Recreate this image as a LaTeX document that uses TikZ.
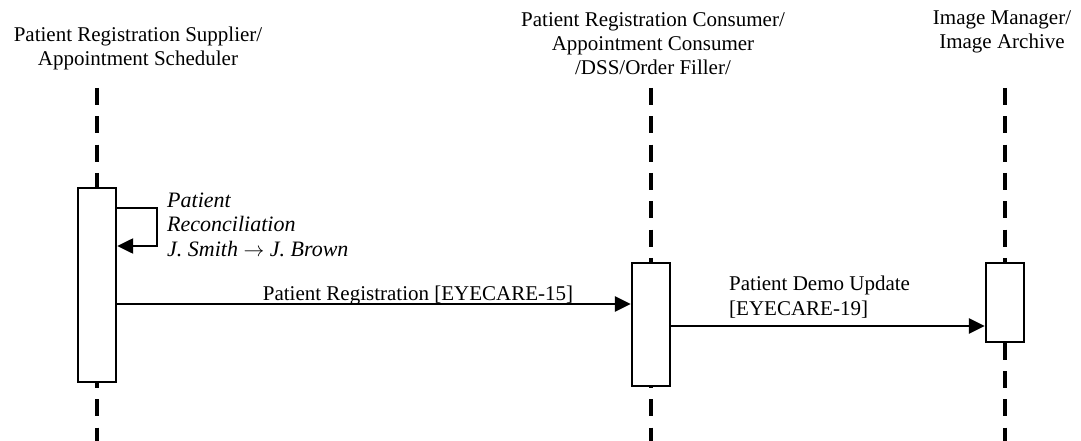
\documentclass[tikz,border=0pt]{standalone}
\usepackage{fontspec}
\setmainfont{Liberation Serif}
\usetikzlibrary{arrows.meta}
\begin{document}
\begin{tikzpicture}[x=1pt,y=-1pt,
  every node/.style={font=\fontsize{21}{24}\selectfont, inner sep=0pt},
  lifeline/.style={line width=3.3pt, dash pattern=on 17pt off 11.3pt},
  actbox/.style={draw, line width=2.4pt, fill=white, rectangle, minimum width=38pt},
  msg/.style={line width=2.8pt, -{Triangle[length=16pt,width=15pt]}},
  selfmsg/.style={line width=2.4pt, -{Triangle[length=16pt,width=15pt]}},
]
\useasboundingbox (0,0) rectangle (1081,441);
% headers (base anchor = baseline of last line)
\node[align=center, anchor=base] (hA) at (138,66) {Patient Registration Supplier/\\Appointment Scheduler};
\node[align=center, anchor=base] (hB) at (653,75) {Patient Registration Consumer/\\Appointment Consumer\\/DSS/Order Filler/};
\node[align=center, anchor=base] (hC) at (1002,49) {Image Manager/\\Image Archive};
% lifelines
\coordinate (tA) at (97,88);  \coordinate (bA) at (97,441);
\coordinate (tB) at (651,88); \coordinate (bB) at (651,441);
\coordinate (tC) at (1005,88); \coordinate (bC) at (1005,441);
\draw[lifeline] (tA) -- (bA);
\draw[lifeline] (tB) -- (bB);
\draw[lifeline] (tC) -- (bC);
% activation boxes
\node[actbox, minimum height=194pt] (boxA) at (97,285) {};
\node[actbox, minimum height=123pt] (boxB) at (651,324.5) {};
\node[actbox, minimum height=79pt] (boxC) at (1005,302.5) {};
% self message
\coordinate (s1) at (0,208);
\coordinate (s2) at (0,246);
\draw[selfmsg] (boxA.east |- s1) -- ++(40,0) -- ++(0,38) -- (boxA.east |- s2);
\node[align=left, anchor=base west, font=\fontsize{22}{24.5}\selectfont\itshape] (lself) at (167,256) {Patient\\Reconciliation\\J. Smith $\rightarrow$ J. Brown};
% messages
\coordinate (m1) at (0,304);
\coordinate (m2) at (0,326);
\draw[msg] (boxA.east |- m1) -- (boxB.west |- m1);
\node[anchor=base] (l1) at (418,300) {Patient Registration [EYECARE-15]};
\draw[msg] (boxB.east |- m2) -- (boxC.west |- m2);
\node[align=left, anchor=base west, font=\fontsize{21}{25}\selectfont] (l2) at (729,315) {Patient Demo Update\\{[EYECARE-19]}};
\end{tikzpicture}
\end{document}
